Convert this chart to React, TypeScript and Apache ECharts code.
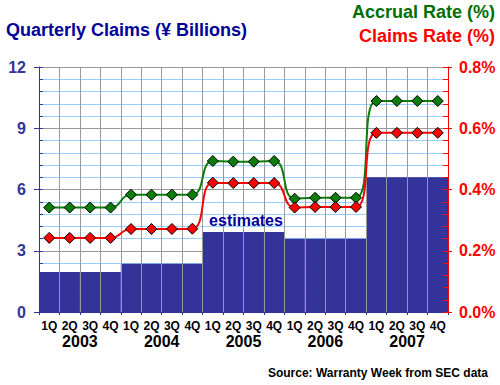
import React, { useEffect, useRef } from "react";
import * as echarts from "echarts";

const years = ["2003", "2004", "2005", "2006", "2007"];
const quarters = ["1Q", "2Q", "3Q", "4Q"];
const categories = years.flatMap((y) => quarters.map((q) => `${y}-${q}`));

// Quarterly claims (¥ billions), left axis
const claimsValues = [
  1.96, 1.96, 1.96, 1.96,
  2.36, 2.36, 2.36, 2.36,
  3.92, 3.92, 3.92, 3.92,
  3.59, 3.59, 3.59, 3.59,
  6.6, 6.6, 6.6, 6.6,
];
// Accrual rate (%), right axis
const accrualRate = [
  0.341, 0.341, 0.341, 0.341,
  0.383, 0.383, 0.383, 0.383,
  0.493, 0.491, 0.491, 0.493,
  0.37, 0.373, 0.373, 0.373,
  0.689, 0.689, 0.689, 0.689,
];
// Claims rate (%), right axis
const claimsRate = [
  0.242, 0.242, 0.242, 0.242,
  0.271, 0.271, 0.271, 0.272,
  0.422, 0.421, 0.421, 0.421,
  0.341, 0.343, 0.343, 0.343,
  0.585, 0.585, 0.585, 0.585,
];

const leftTicks = { min: 0, max: 12, interval: 3 };
const rightTicks = { min: 0, max: 0.8, interval: 0.2 };

const FONT = '"Liberation Sans", Arial, Helvetica, sans-serif';
const NAVY = "#333399";
const RED = "#ff0000";
const GREEN = "#0a7d0a";

export default function App() {
  const ref = useRef<HTMLDivElement>(null);
  useEffect(() => {
    if (!ref.current) return;
    const chart = echarts.init(ref.current, null, { renderer: "svg" });
    const tickOnlyLeft = {
      type: "value",
      position: "left",
      ...leftTicks,
      z: 4,
      axisLabel: { show: false },
      splitLine: { show: false },
    };
    const tickOnlyRight = {
      type: "value",
      position: "right",
      ...rightTicks,
      z: 4,
      axisLabel: { show: false },
      splitLine: { show: false },
    };
    chart.setOption({
      animation: false,
      backgroundColor: "#ffffff",
      textStyle: { fontFamily: FONT },
      grid: { left: 39, right: 52, top: 67, bottom: 73, outerBoundsMode: "none", containLabel: false },
      xAxis: [
        {
          type: "category",
          data: categories,
          position: "bottom",
          boundaryGap: true,
          z: 3,
          axisLine: { show: true, lineStyle: { color: NAVY, width: 1 } },
          axisTick: { show: true, interval: 0, length: 3, lineStyle: { color: NAVY } },
          axisLabel: {
            interval: 0,
            margin: 8,
            color: "#000",
            fontSize: 12,
            fontWeight: "bold",
            fontFamily: FONT,
            formatter: (v: string) => v.split("-")[1],
          },
          splitLine: { show: true, interval: 0, lineStyle: { color: "#999999", width: 1 } },
        },
        {
          type: "category",
          data: years,
          position: "bottom",
          boundaryGap: true,
          axisLine: { show: false },
          axisTick: { show: false },
          axisLabel: {
            interval: 0,
            margin: 21,
            color: "#000",
            fontSize: 16,
            fontWeight: "bold",
            fontFamily: FONT,
          },
          splitLine: { show: false },
        },
      ],
      yAxis: [
        {
          type: "value",
          position: "left",
          ...leftTicks,
          z: 0,
          axisLine: { show: false },
          axisTick: { show: false },
          minorTick: { show: false, splitNumber: 5 },
          axisLabel: { color: NAVY, fontSize: 16, fontWeight: "bold", margin: 13, fontFamily: FONT },
          splitLine: { show: true, lineStyle: { color: "#999999", width: 1 } },
          minorSplitLine: { show: true, lineStyle: { color: "#99ccff", width: 1 } },
        },
        {
          type: "value",
          position: "right",
          ...rightTicks,
          z: 4,
          axisLine: { show: true, lineStyle: { color: RED, width: 1 } },
          axisTick: { show: true, inside: true, length: 5, lineStyle: { color: RED } },
          minorTick: { show: true, splitNumber: 5, length: 5, lineStyle: { color: RED } },
          axisLabel: {
            color: RED,
            fontSize: 16,
            fontWeight: "bold",
            margin: 11,
            fontFamily: FONT,
            formatter: (v: number) => v.toFixed(1) + "%",
          },
          splitLine: { show: false },
        },
        {
          ...tickOnlyLeft,
          axisLine: { show: true, lineStyle: { color: NAVY, width: 1 } },
          axisTick: { show: true, inside: true, length: 4, lineStyle: { color: NAVY } },
          minorTick: { show: true, splitNumber: 5, length: 4, lineStyle: { color: NAVY } },
        },
        {
          ...tickOnlyLeft,
          axisLine: { show: false },
          axisTick: { show: true, inside: false, length: 5, lineStyle: { color: NAVY } },
        },
        {
          ...tickOnlyRight,
          axisLine: { show: false },
          axisTick: { show: true, inside: false, length: 4, lineStyle: { color: RED } },
        },
      ],
      series: [
        {
          name: "Quarterly Claims",
          type: "bar",
          xAxisIndex: 0,
          yAxisIndex: 0,
          data: claimsValues,
          barWidth: "100%",
          barCategoryGap: "0%",
          itemStyle: { color: NAVY },
          z: 2,
        },
        {
          name: "Accrual Rate (%)",
          type: "line",
          xAxisIndex: 0,
          yAxisIndex: 1,
          data: accrualRate,
          smooth: 0.5,
          symbol: "diamond",
          symbolSize: 11,
          lineStyle: { color: GREEN, width: 2 },
          itemStyle: { color: GREEN, borderColor: "#000", borderWidth: 1 },
          z: 6,
        },
        {
          name: "Claims Rate (%)",
          type: "line",
          xAxisIndex: 0,
          yAxisIndex: 1,
          data: claimsRate,
          smooth: 0.5,
          symbol: "diamond",
          symbolSize: 11,
          lineStyle: { color: RED, width: 2 },
          itemStyle: { color: RED, borderColor: "#000", borderWidth: 1 },
          z: 6,
        },
      ],
      graphic: [
        {
          type: "text",
          x: 6,
          y: 30,
          z: 10,
          style: {
            text: "Quarterly Claims (¥ Billions)",
            fill: "#000099",
            font: `bold 18px ${FONT}`,
            textAlign: "left",
            textVerticalAlign: "middle",
            align: "left",
            verticalAlign: "middle",
          },
        },
        {
          type: "text",
          x: 495,
          y: 12,
          z: 10,
          style: {
            text: "Accrual Rate (%)",
            fill: "#006e00",
            font: `bold 18px ${FONT}`,
            textAlign: "right",
            textVerticalAlign: "middle",
            align: "right",
            verticalAlign: "middle",
          },
        },
        {
          type: "text",
          x: 495,
          y: 36,
          z: 10,
          style: {
            text: "Claims Rate (%)",
            fill: RED,
            font: `bold 18px ${FONT}`,
            textAlign: "right",
            textVerticalAlign: "middle",
            align: "right",
            verticalAlign: "middle",
          },
        },
        {
          type: "text",
          x: 246,
          y: 220,
          z: 10,
          style: {
            text: "estimates",
            fill: "#000099",
            font: `bold 16px ${FONT}`,
            textAlign: "center",
            textVerticalAlign: "middle",
            align: "center",
            verticalAlign: "middle",
          },
        },
        {
          type: "text",
          x: 488,
          y: 373,
          z: 10,
          style: {
            text: "Source: Warranty Week from SEC data",
            fill: "#000",
            font: `bold 12px ${FONT}`,
            textAlign: "right",
            textVerticalAlign: "middle",
            align: "right",
            verticalAlign: "middle",
          },
        },
      ],
    });
    return () => chart.dispose();
  }, []);
  return (
    <div
      ref={ref}
      style={{ position: "fixed", left: 0, top: 0, width: 500, height: 385, background: "#fff" }}
    />
  );
}
